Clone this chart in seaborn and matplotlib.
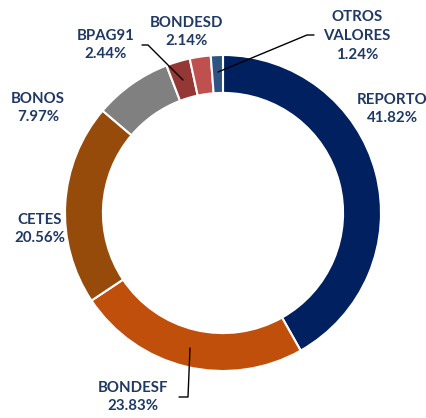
import matplotlib
matplotlib.use("Agg")
import matplotlib.pyplot as plt
import seaborn as sns

names = ["REPORTO", "BONDESF", "CETES", "BONOS", "BPAG91", "BONDESD", "OTROS\nVALORES"]
shares = [41.82, 23.83, 20.56, 7.97, 2.44, 2.14, 1.24]
colors = ["#002060", "#C04F0C", "#964B0B", "#808080", "#953735", "#C0504D", "#2F5481"]

sns.set_theme(style="white")
plt.rcParams['font.family'] = ['Lato', 'DejaVu Sans']

R = 158.0  # pixels per unit radius
cx, cy = 223, 213

def px(x, y):
    return ((x - cx) / R, -(y - cy) / R)

fig = plt.figure(figsize=(4.27, 4.18), dpi=100)
ax = fig.add_axes([0, 0, 1, 1])
ax.pie(shares, colors=colors, startangle=90, counterclock=False,
       radius=1, wedgeprops=dict(width=0.24, edgecolor="white", linewidth=1.5))
ax.set_xlim(-cx / R, (427 - cx) / R)
ax.set_ylim(-(418 - cy) / R, cy / R)
ax.set_aspect("auto")
ax.axis("off")

# label placement (pixel positions in the picture)
label_pos = [(392, 109), (133, 397), (40, 229), (38, 108), (106, 45), (187, 32), (357, 36)]
txt_color = "#1F3864"
for name, val, (x, y) in zip(names, shares, label_pos):
    ax.text(*px(x, y), f"{name}\n{val:.2f}%", ha="center", va="center",
            fontsize=10.8, fontweight="bold", color=txt_color, linespacing=1.45)

# leader lines
leaders = [
    [(218, 72), (307, 35), (314, 35)],
    [(142, 45), (148, 45), (183, 80)],
    [(179, 397), (188, 397), (190, 348)],
]
for pts in leaders:
    xs, ys = zip(*[px(x, y) for x, y in pts])
    ax.plot(xs, ys, color="black", lw=1)

fig.savefig("out.png", dpi=100)
